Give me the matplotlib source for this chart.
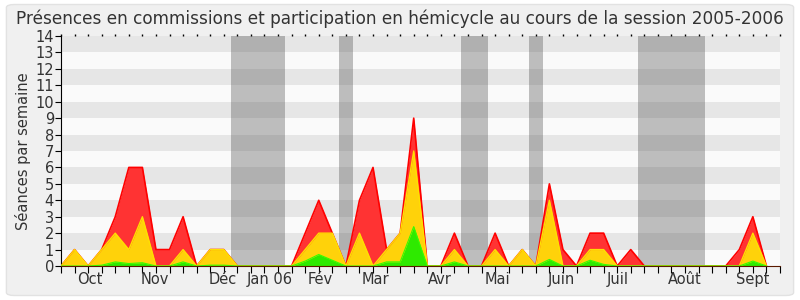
import numpy as np
import matplotlib
matplotlib.use("Agg")
import matplotlib.pyplot as plt
from matplotlib.patches import FancyBboxPatch

# weekly values, session 2005-2006 (week index 0..52)
total = [0, 1, 0, 1, 3, 6, 6, 1, 1, 3, 0, 1, 1, 0, 0, 0, 0, 0, 2, 4, 2, 0, 4, 6, 1, 2,
         9, 0, 0, 2, 0, 0, 2, 0, 1, 0, 5, 1, 0, 2, 2, 0, 1, 0, 0, 0, 0, 0, 0, 0, 1, 3, 0]
hemicycle = [0, 1, 0, 1, 2, 1, 3, 0, 0, 1, 0, 1, 1, 0, 0, 0, 0, 0, 1, 2, 2, 0, 2, 0, 1, 2,
             7, 0, 0, 1, 0, 0, 1, 0, 1, 0, 4, 0, 0, 1, 1, 0, 0, 0, 0, 0, 0, 0, 0, 0, 0, 2, 0]
interventions = [0, 0, 0, 0.05, 0.25, 0.15, 0.2, 0, 0, 0.25, 0, 0.05, 0.05, 0, 0, 0, 0, 0,
                 0.3, 0.7, 0.35, 0, 0, 0, 0.25, 0.25, 2.4, 0, 0, 0.25, 0, 0, 0, 0, 0, 0,
                 0.4, 0, 0, 0.35, 0.1, 0, 0, 0, 0, 0, 0, 0, 0, 0, 0, 0.3, 0]

# parliamentary holidays (in weeks)
vacances = [(12.5, 16.5), (20.5, 21.5), (29.5, 31.5), (34.5, 35.5), (42.5, 47.5)]

mois = ["Oct", "Nov", "Déc", "Jan 06", "Fév", "Mar", "Avr", "Mai", "Juin", "Juil", "Août", "Sept"]
mois_pos = [2.15, 6.95, 11.95, 15.4, 19.1, 23.2, 27.95, 32.2, 36.9, 41.0, 46.0, 51.0]

semaines = np.arange(len(total))

fig = plt.figure(figsize=(8, 3), dpi=100, facecolor="white")
fig.patches.append(FancyBboxPatch((0.008, 0.015), 0.984, 0.97, boxstyle="round,pad=0,rounding_size=0.01",
                                  transform=fig.transFigure, facecolor="#f0f0f0",
                                  edgecolor="#e2e2e2", linewidth=1, zorder=-10))

ax = fig.add_axes([0.07625, 0.1133, 0.89875, 0.7667])
ax.set_facecolor("#fafafa")

# alternating stripes
for k in range(1, 14, 2):
    ax.axhspan(k, k + 1, color="#e6e6e6", zorder=0, lw=0)

for a, b in vacances:
    ax.axvspan(a, b, color="#333333", alpha=0.3, zorder=1, lw=0)

ax.fill_between(semaines, 0, total, color="#ff3333", lw=0, zorder=2)
ax.plot(semaines, total, color="#ff0000", lw=1.2, zorder=2.5)
ax.fill_between(semaines, 0, hemicycle, color="#ffd20a", lw=0, zorder=3)
ax.plot(semaines, hemicycle, color="#ffe000", lw=1.0, zorder=3.5)
ax.fill_between(semaines, 0, interventions, color="#2eea00", lw=0, zorder=4)
ax.plot(semaines, interventions, color="#33ff00", lw=0.8, zorder=4.5)

ax.set_xlim(0, 53)
ax.set_ylim(0, 14)
ax.set_yticks(range(0, 15))

ax.set_xticks(range(0, 54))
ax.set_xticklabels([])
ax.tick_params(axis="x", direction="out", length=5, color="black")
ax.tick_params(axis="y", direction="out", length=4, color="black", labelsize=10.5,
               labelcolor="#333333", pad=1)
for pos, lab in zip(mois_pos, mois):
    ax.text(pos, -0.35, lab, ha="center", va="top", fontsize=10.5, color="#333333",
            transform=ax.transData, clip_on=False)

# tiny marks along the top edge
top = ax.secondary_xaxis("top")
top.set_xticks(range(0, 54))
top.set_xticklabels([])
top.tick_params(direction="out", length=1.5, width=1, color="black")
top.spines["top"].set_visible(False)

for s in ["top", "right"]:
    ax.spines[s].set_visible(False)
ax.spines["left"].set_color("black")
ax.spines["bottom"].set_color("#5a1a00")
ax.spines["bottom"].set_zorder(6)

ax.set_ylabel("Séances par semaine", fontsize=10.5, color="#333333", labelpad=3)
fig.text(0.5, 0.97, "Présences en commissions et participation en hémicycle au cours de la session 2005-2006",
         ha="center", va="top", fontsize=12.2, color="#333333")

fig.savefig("out.png", dpi=100, facecolor=fig.get_facecolor())
